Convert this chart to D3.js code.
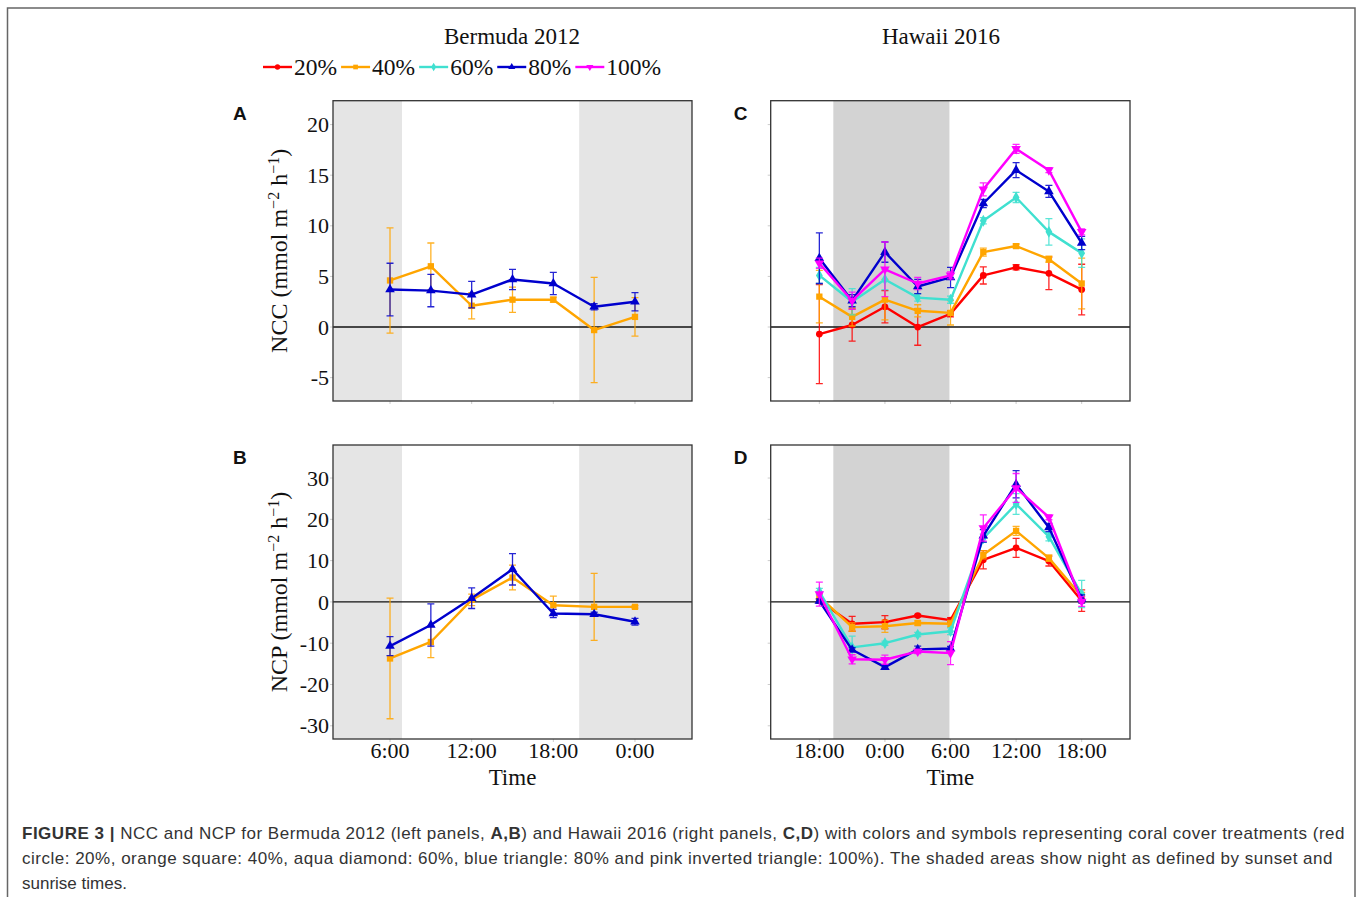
<!DOCTYPE html>
<html>
<head>
<meta charset="utf-8">
<script src="https://cdn.jsdelivr.net/npm/d3@7"></script>
<style>
  body { margin: 0; background: #fff; }
  svg { display: block; }
</style>
</head>
<body>
<div id="chart-area"></div>
<script>
// NCC / NCP, Bermuda 2012 vs Hawaii 2016

// treatments
var treatments = ["20%", "40%", "60%", "80%", "100%"];
var treatColors = ["#ff0000", "#ffa500", "#40e0d0", "#0000cd", "#ff00ff"];
var treatShapes = ["circle", "square", "diamond", "triangle", "triangle-down"];

// Bermuda: hours since midnight (24 = 0:00 next day)
var berHours = [6, 9, 12, 15, 18, 21, 24];
var berTicks = [6, 12, 18, 24];
var berTickLabels = ["6:00", "12:00", "18:00", "0:00"];

var berNcc40 = [4.6, 6.0, 2.1, 2.7, 2.7, -0.3, 1.0];
var berNcc40Err = [5.2, 2.3, 1.3, 1.25, 0.25, 5.2, 1.9];
var berNcc80 = [3.7, 3.6, 3.2, 4.7, 4.3, 2.0, 2.5];
var berNcc80Err = [2.6, 1.6, 1.3, 1.0, 1.1, 0.3, 0.9];

var berNcp40 = [-13.7, -9.7, 0.5, 5.9, -0.8, -1.2, -1.2];
var berNcp40Err = [14.6, 3.8, 1.4, 3.0, 2.2, 8.1, 0.3];
var berNcp80 = [-10.7, -5.6, 0.9, 7.9, -2.8, -3.0, -4.8];
var berNcp80Err = [2.3, 5.1, 2.5, 3.8, 1.0, 0.5, 0.8];

// Hawaii: starts at 18:00 of day 1
var hawHours = [18, 21, 24, 27, 30, 33, 36, 39, 42];
var hawTicks = [18, 24, 30, 36, 42];
var hawTickLabels = ["18:00", "0:00", "6:00", "12:00", "18:00"];

var hawNcc20 = [-0.7, 0.2, 2.0, 0.0, 1.3, 5.1, 5.9, 5.3, 3.7];
var hawNcc20Err = [4.9, 1.6, 1.6, 1.8, 0.3, 0.85, 0.25, 1.6, 2.5];
var hawNcc40 = [3.0, 1.0, 2.7, 1.6, 1.4, 7.4, 8.0, 6.7, 4.3];
var hawNcc40Err = [2.6, 0.9, 2.0, 0.6, 1.2, 0.4, 0.2, 0.3, 2.5];
var hawNcc60 = [5.1, 2.5, 4.7, 2.9, 2.7, 10.5, 12.8, 9.4, 7.3];
var hawNcc60Err = [0.8, 1.3, 1.0, 0.35, 0.35, 0.3, 0.5, 1.3, 1.4];
var hawNcc80 = [6.8, 2.6, 7.4, 4.0, 4.9, 12.2, 15.5, 13.4, 8.3];
var hawNcc80Err = [2.5, 0.6, 1.0, 0.7, 1.0, 0.4, 0.75, 0.6, 0.65];
var hawNcc100 = [6.3, 2.6, 5.7, 4.3, 5.1, 13.6, 17.6, 15.5, 9.4];
var hawNcc100Err = [0.5, 0.85, 2.7, 0.6, 0.35, 0.65, 0.45, 0.25, 0.3];

var hawNcp20 = [0.3, -5.3, -4.9, -3.3, -4.4, 10.2, 13.1, 9.9, 0.3];
var hawNcp20Err = [0.5, 1.8, 1.6, 0.3, 0.6, 2.2, 2.3, 1.2, 2.6];
var hawNcp40 = [1.3, -6.1, -5.9, -5.1, -5.3, 11.4, 17.2, 10.6, 1.3];
var hawNcp40Err = [0.7, 1.0, 1.5, 0.5, 0.8, 1.0, 1.1, 0.8, 1.0];
var hawNcp60 = [2.5, -11.0, -10.0, -7.9, -7.1, 15.4, 23.7, 15.8, 1.9];
var hawNcp60Err = [0.8, 2.7, 0.5, 0.5, 0.8, 1.0, 2.5, 1.0, 3.3];
var hawNcp80 = [0.2, -11.6, -15.8, -11.5, -11.3, 16.0, 28.5, 18.0, 0.7];
var hawNcp80Err = [0.5, 0.5, 0.5, 0.8, 0.5, 1.5, 3.3, 1.0, 1.0];
var hawNcp100 = [1.9, -13.9, -14.0, -12.0, -12.4, 17.9, 27.6, 20.5, 0.1];
var hawNcp100Err = [2.9, 1.1, 1.1, 0.5, 2.8, 3.2, 3.5, 0.6, 1.2];

// night (sunset -> sunrise), in the same hour units
var berNight = [[0, 6.88], [19.9, 30]];
var hawNight = [[19.28, 29.9]];

var nccTicks = [20, 15, 10, 5, 0, -5];
var ncpTicks = [30, 20, 10, 0, -10, -20, -30];

var width = 1358, height = 897;
var serif = "'Liberation Serif', 'Times New Roman', serif";
var sans = "'Liberation Sans', Arial, Helvetica, sans-serif";

var svg = d3.select("#chart-area")
    .append("svg")
    .attr("width", width)
    .attr("height", height);

// outer frame
svg.append("rect")
    .attr("x", 7.5).attr("y", 8)
    .attr("width", 1347.5).attr("height", 920)
    .attr("fill", "none")
    .attr("stroke", "#666")
    .attr("stroke-width", 1.5);

// panel boxes
var leftX = [333, 692], rightX = [770.7, 1130];
var topY = [100.7, 401], botY = [445, 739];

var xBer = d3.scaleLinear().domain([1.81, 28.19]).range(leftX);
var xHaw = d3.scaleLinear().domain([13.55, 46.42]).range(rightX);
var yNcc = d3.scaleLinear().domain([-7.31, 22.36]).range([topY[1], topY[0]]);
var yNcp = d3.scaleLinear().domain([-33.2, 38.0]).range([botY[1], botY[0]]);

function symbolFor(shape, size) {
    var t = { circle: d3.symbolCircle, square: d3.symbolSquare, diamond: d3.symbolDiamond,
              triangle: d3.symbolTriangle, "triangle-down": d3.symbolTriangle }[shape];
    return d3.symbol().type(t).size(size)();
}

function drawPanel(o) {
    var x = o.x, y = o.y;
    var x0 = x.range()[0], x1 = x.range()[1];
    var y0 = y.range()[1], y1 = y.range()[0];
    var p = svg.append("g");

    var clipId = "clip-" + o.label;
    svg.append("clipPath").attr("id", clipId)
        .append("rect").attr("x", x0).attr("y", y0).attr("width", x1 - x0).attr("height", y1 - y0);

    var inner = p.append("g").attr("clip-path", "url(#" + clipId + ")");

    inner.selectAll("rect.night")
        .data(o.night)
        .join("rect")
        .attr("class", "night")
        .attr("x", d => x(d[0]))
        .attr("width", d => x(d[1]) - x(d[0]))
        .attr("y", y0)
        .attr("height", y1 - y0)
        .attr("fill", o.shade);

    // zero line
    inner.append("line")
        .attr("x1", x0).attr("x2", x1)
        .attr("y1", y(0)).attr("y2", y(0))
        .attr("stroke", "#111")
        .attr("stroke-width", 1.3);

    // tick marks
    p.selectAll("line.yt")
        .data(o.yTicks)
        .join("line")
        .attr("class", "yt")
        .attr("x1", x0 - 3).attr("x2", x0)
        .attr("y1", d => y(d)).attr("y2", d => y(d))
        .attr("stroke", "#ccc");
    p.selectAll("line.xt")
        .data(o.xTicks)
        .join("line")
        .attr("class", "xt")
        .attr("x1", d => x(d)).attr("x2", d => x(d))
        .attr("y1", y1).attr("y2", y1 + 3)
        .attr("stroke", "#ccc");

    if (o.showY) {
        p.selectAll("text.yl")
            .data(o.yTicks)
            .join("text")
            .attr("class", "yl")
            .attr("x", x0 - 4)
            .attr("y", d => y(d))
            .attr("dy", "0.35em")
            .attr("text-anchor", "end")
            .style("font-family", serif)
            .style("font-size", "22px")
            .attr("fill", "#111")
            .text(d => d);

        var t = p.append("text")
            .attr("transform", "translate(" + (x0 - 46) + "," + ((y0 + y1) / 2) + ") rotate(-90)")
            .attr("text-anchor", "middle")
            .style("font-family", serif)
            .style("font-size", "24px")
            .attr("fill", "#111");
        t.append("tspan").text(o.yTitle + " (mmol m");
        t.append("tspan").attr("baseline-shift", "super").style("font-size", "16px").text("\u22122");
        t.append("tspan").text(" h");
        t.append("tspan").attr("baseline-shift", "super").style("font-size", "16px").text("\u22121");
        t.append("tspan").text(")");
    }

    if (o.showX) {
        p.selectAll("text.xl")
            .data(o.xTicks)
            .join("text")
            .attr("class", "xl")
            .attr("x", d => x(d))
            .attr("y", y1 + 19)
            .attr("text-anchor", "middle")
            .style("font-family", serif)
            .style("font-size", "22px")
            .attr("fill", "#111")
            .text((d, i) => o.xTickLabels[i]);
        p.append("text")
            .attr("x", (x0 + x1) / 2)
            .attr("y", y1 + 46)
            .attr("text-anchor", "middle")
            .style("font-family", serif)
            .style("font-size", "23px")
            .attr("fill", "#111")
            .text("Time");
    }

    var line = d3.line().x(d => x(d[0])).y(d => y(d[1]));

    o.series.forEach(function(s) {
        var k = treatments.indexOf(s.key);
        var col = treatColors[k];
        var pts = o.hours.map((h, i) => [h, s.values[i], s.err[i]]);
        var g = inner.append("g");

        // error bars
        g.selectAll("path.err")
            .data(pts)
            .join("path")
            .attr("class", "err")
            .attr("d", d => {
                var cx = x(d[0]), ya = y(d[1] + d[2]), yb = y(d[1] - d[2]);
                return "M" + (cx - 3.5) + "," + ya + "H" + (cx + 3.5) +
                       "M" + cx + "," + ya + "V" + yb +
                       "M" + (cx - 3.5) + "," + yb + "H" + (cx + 3.5);
            })
            .attr("fill", "none")
            .attr("stroke", col)
            .attr("stroke-width", 1.3)
            .attr("opacity", 0.85);

        g.append("path")
            .datum(pts)
            .attr("d", line)
            .attr("fill", "none")
            .attr("stroke", col)
            .attr("stroke-width", 2.4)
            .attr("stroke-linejoin", "round");

        g.selectAll("path.pt")
            .data(pts)
            .join("path")
            .attr("class", "pt")
            .attr("d", symbolFor(treatShapes[k], treatShapes[k] == "circle" ? 36 : 40))
            .attr("transform", d => "translate(" + x(d[0]) + "," + y(d[1]) + ")" +
                  (treatShapes[k] == "triangle-down" ? " rotate(180)" : ""))
            .attr("fill", col);
    });

    // border
    p.append("rect")
        .attr("x", x0).attr("y", y0)
        .attr("width", x1 - x0).attr("height", y1 - y0)
        .attr("fill", "none")
        .attr("stroke", "#333")
        .attr("stroke-width", 1.3);

    p.append("text")
        .attr("x", x0 - 100 + (o.label == "C" || o.label == "D" ? 63 : 0))
        .attr("y", y0 + 19)
        .style("font-family", sans)
        .style("font-weight", "bold")
        .style("font-size", "19px")
        .attr("fill", "#111")
        .text(o.label);
}

drawPanel({ label: "A", x: xBer, y: yNcc, hours: berHours, night: berNight, shade: "#e5e5e5",
    xTicks: berTicks, xTickLabels: berTickLabels, yTicks: nccTicks, showY: true, showX: false, yTitle: "NCC",
    series: [{ key: "40%", values: berNcc40, err: berNcc40Err }, { key: "80%", values: berNcc80, err: berNcc80Err }] });

drawPanel({ label: "B", x: xBer, y: yNcp, hours: berHours, night: berNight, shade: "#e5e5e5",
    xTicks: berTicks, xTickLabels: berTickLabels, yTicks: ncpTicks, showY: true, showX: true, yTitle: "NCP",
    series: [{ key: "40%", values: berNcp40, err: berNcp40Err }, { key: "80%", values: berNcp80, err: berNcp80Err }] });

drawPanel({ label: "C", x: xHaw, y: yNcc, hours: hawHours, night: hawNight, shade: "#d3d3d3",
    xTicks: hawTicks, xTickLabels: hawTickLabels, yTicks: nccTicks, showY: false, showX: false,
    series: [
        { key: "20%", values: hawNcc20, err: hawNcc20Err },
        { key: "40%", values: hawNcc40, err: hawNcc40Err },
        { key: "60%", values: hawNcc60, err: hawNcc60Err },
        { key: "80%", values: hawNcc80, err: hawNcc80Err },
        { key: "100%", values: hawNcc100, err: hawNcc100Err }] });

drawPanel({ label: "D", x: xHaw, y: yNcp, hours: hawHours, night: hawNight, shade: "#d3d3d3",
    xTicks: hawTicks, xTickLabels: hawTickLabels, yTicks: ncpTicks, showY: false, showX: true,
    series: [
        { key: "20%", values: hawNcp20, err: hawNcp20Err },
        { key: "40%", values: hawNcp40, err: hawNcp40Err },
        { key: "60%", values: hawNcp60, err: hawNcp60Err },
        { key: "80%", values: hawNcp80, err: hawNcp80Err },
        { key: "100%", values: hawNcp100, err: hawNcp100Err }] });

// column headings
svg.append("text")
    .attr("x", 512).attr("y", 44)
    .attr("text-anchor", "middle")
    .style("font-family", serif).style("font-size", "23px").attr("fill", "#111")
    .text("Bermuda 2012");
svg.append("text")
    .attr("x", 941).attr("y", 44)
    .attr("text-anchor", "middle")
    .style("font-family", serif).style("font-size", "23px").attr("fill", "#111")
    .text("Hawaii 2016");

// legend
var legend = svg.append("g").attr("transform", "translate(263,67)");
var lx = 0;
treatments.forEach(function(t, i) {
    var row = legend.append("g").attr("transform", "translate(" + lx + ",0)");
    row.append("line")
        .attr("x1", 0).attr("x2", 29)
        .attr("stroke", treatColors[i]).attr("stroke-width", 2.4);
    row.append("path")
        .attr("d", symbolFor(treatShapes[i], 22))
        .attr("transform", "translate(14.5,0)" + (treatShapes[i] == "triangle-down" ? " rotate(180)" : ""))
        .attr("fill", treatColors[i]);
    var txt = row.append("text")
        .attr("x", 31).attr("y", 0).attr("dy", "0.35em")
        .style("font-family", serif).style("font-size", "23.5px").attr("fill", "#111")
        .text(t);
    lx += 31 + txt.node().getComputedTextLength() + 4;
});

// caption
var capLines = [
    [["FIGURE 3 | ", true], ["NCC and NCP for Bermuda 2012 (left panels, ", false], ["A,B", true],
     [") and Hawaii 2016 (right panels, ", false], ["C,D", true],
     [") with colors and symbols representing coral cover treatments (red", false]],
    [["circle: 20%, orange square: 40%, aqua diamond: 60%, blue triangle: 80% and pink inverted triangle: 100%). The shaded areas show night as defined by sunset and", false]],
    [["sunrise times.", false]]
];
var capWidths = [1323, 1311, 0];
capLines.forEach(function(parts, i) {
    var t = svg.append("text")
        .attr("x", 22).attr("y", 839 + i * 25)
        .style("font-family", sans).style("font-size", "17px").attr("fill", "#333");
    parts.forEach(function(pp) {
        t.append("tspan").style("font-weight", pp[1] ? "bold" : "normal").text(pp[0]);
    });
    if (capWidths[i]) {
        var n = t.text().length;
        var w = t.node().getComputedTextLength();
        t.style("letter-spacing", ((capWidths[i] - w) / n) + "px");
    }
});
</script>
</body>
</html>
